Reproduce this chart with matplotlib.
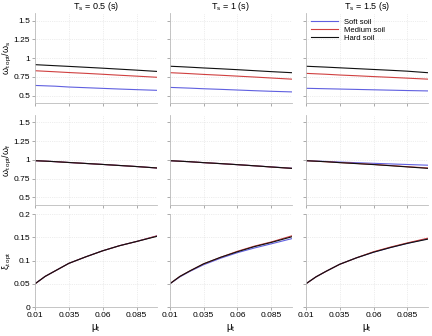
import matplotlib
matplotlib.use("Agg")
import matplotlib.pyplot as plt

mu = [0.01, 0.0175, 0.025, 0.035, 0.0475, 0.06, 0.0725, 0.085, 0.1]
periods = ["0.5", "1", "1.5"]
soils = ["Soft soil", "Medium soil", "Hard soil"]
colors = ["#6060e0", "#d04040", "#101010"]

# omega_t_opt / omega_s  [period][soil]
w_s = [
    [[0.636, 0.631, 0.626, 0.615, 0.606, 0.597, 0.588, 0.580, 0.571],
     [0.832, 0.825, 0.818, 0.808, 0.797, 0.785, 0.772, 0.760, 0.745],
     [0.913, 0.906, 0.899, 0.890, 0.878, 0.866, 0.853, 0.840, 0.823]],
    [[0.610, 0.605, 0.600, 0.592, 0.584, 0.575, 0.566, 0.558, 0.550],
     [0.806, 0.800, 0.793, 0.783, 0.772, 0.760, 0.748, 0.735, 0.720],
     [0.892, 0.886, 0.879, 0.869, 0.858, 0.846, 0.833, 0.820, 0.806]],
    [[0.598, 0.595, 0.592, 0.588, 0.583, 0.578, 0.573, 0.568, 0.563],
     [0.797, 0.791, 0.785, 0.775, 0.765, 0.754, 0.744, 0.733, 0.720],
     [0.892, 0.886, 0.880, 0.871, 0.860, 0.849, 0.838, 0.826, 0.806]],
]

# omega_t_opt / omega_f
w_f = [
    [[0.990, 0.984, 0.977, 0.966, 0.953, 0.940, 0.926, 0.912, 0.893],
     [0.990, 0.984, 0.977, 0.966, 0.953, 0.940, 0.926, 0.912, 0.893],
     [0.990, 0.984, 0.977, 0.966, 0.953, 0.940, 0.926, 0.912, 0.893]],
    [[0.990, 0.983, 0.976, 0.964, 0.951, 0.937, 0.922, 0.907, 0.890],
     [0.990, 0.983, 0.976, 0.964, 0.951, 0.937, 0.922, 0.906, 0.888],
     [0.990, 0.983, 0.976, 0.964, 0.951, 0.937, 0.922, 0.906, 0.888]],
    [[0.990, 0.985, 0.980, 0.972, 0.963, 0.955, 0.947, 0.939, 0.930],
     [0.990, 0.983, 0.976, 0.965, 0.953, 0.940, 0.925, 0.910, 0.893],
     [0.990, 0.983, 0.976, 0.964, 0.951, 0.938, 0.923, 0.907, 0.888]],
]

# xi_t_opt
xi = [
    [[0.050, 0.066, 0.078, 0.094, 0.108, 0.121, 0.132, 0.141, 0.153],
     [0.050, 0.066, 0.078, 0.094, 0.108, 0.121, 0.132, 0.141, 0.153],
     [0.050, 0.066, 0.078, 0.094, 0.108, 0.121, 0.132, 0.141, 0.152]],
    [[0.050, 0.065, 0.077, 0.091, 0.105, 0.117, 0.127, 0.136, 0.147],
     [0.050, 0.066, 0.078, 0.093, 0.107, 0.120, 0.131, 0.140, 0.153],
     [0.050, 0.066, 0.078, 0.093, 0.107, 0.119, 0.130, 0.139, 0.151]],
    [[0.050, 0.065, 0.077, 0.092, 0.106, 0.118, 0.128, 0.137, 0.147],
     [0.050, 0.065, 0.077, 0.092, 0.106, 0.119, 0.129, 0.138, 0.148],
     [0.050, 0.065, 0.077, 0.092, 0.106, 0.118, 0.128, 0.137, 0.146]],
]

xticks = [0.01, 0.035, 0.06, 0.085]
xtick_labels = ["0.01", "0.035", "0.06", "0.085"]
yticks_w = [0.5, 0.75, 1, 1.25, 1.5]
ytick_labels_w = ["0.5", "0.75", "1", "1.25", "1.5"]
yticks_xi = [0, 0.05, 0.1, 0.15, 0.2]
ytick_labels_xi = ["0", "0.05", "0.1", "0.15", "0.2"]

ylabels = [r"$\omega_{t\ opt}/\omega_s$", r"$\omega_{t\ opt}/\omega_f$", r"$\xi_{t\ opt}$"]

plt.rcParams["font.family"] = "Liberation Sans"
plt.rcParams["mathtext.default"] = "regular"
fig = plt.figure(figsize=(4.32, 3.36), dpi=100)

lefts = [0.081, 0.393, 0.708]
width = 0.282
rows = [(0.693, 0.268), (0.390, 0.268), (0.086, 0.277)]
datasets = [w_s, w_f, xi]

for r in range(3):
    for c in range(3):
        ax = fig.add_axes([lefts[c], rows[r][0], width, rows[r][1]])
        for s in range(3):
            ax.plot(mu, datasets[r][c][s], color=colors[s], lw=0.8, label=soils[s])
        ax.set_xlim(0.01, 0.1)
        ax.set_xticks(xticks)
        if r < 2:
            ax.set_ylim(0.4, 1.6)
            ax.set_yticks(yticks_w)
            ax.set_yticklabels(ytick_labels_w if c == 0 else [])
        else:
            ax.set_ylim(0, 0.2)
            ax.set_yticks(yticks_xi)
            ax.set_yticklabels(ytick_labels_xi if c == 0 else [])
        if r == 2:
            ax.set_xticklabels(xtick_labels)
            ax.set_xlabel(r"$\mu_t$", fontsize=7, labelpad=2)
        else:
            ax.set_xticklabels([])
        if c == 0:
            ax.set_ylabel(ylabels[r], fontsize=6.5)
            ax.yaxis.set_label_coords(-0.17, 0.5)
        if r == 0:
            ax.set_title(r"T$_s$ = " + periods[c] + " (s)", fontsize=6.5, pad=1)
        ax.grid(True, color="#dddddd", lw=0.5, ls=":")
        ax.tick_params(labelsize=6, length=2, width=0.5, color="#888888", pad=1.5)
        for sp in ["top", "right"]:
            ax.spines[sp].set_visible(False)
        for sp in ["left", "bottom"]:
            ax.spines[sp].set_color("#bbbbbb")
            ax.spines[sp].set_linewidth(0.6)
        if r == 0 and c == 2:
            ax.legend(loc="upper left", fontsize=5.5, frameon=False,
                      handlelength=3.5, borderpad=0.2, labelspacing=0.1)

fig.savefig("out.png", dpi=100)
